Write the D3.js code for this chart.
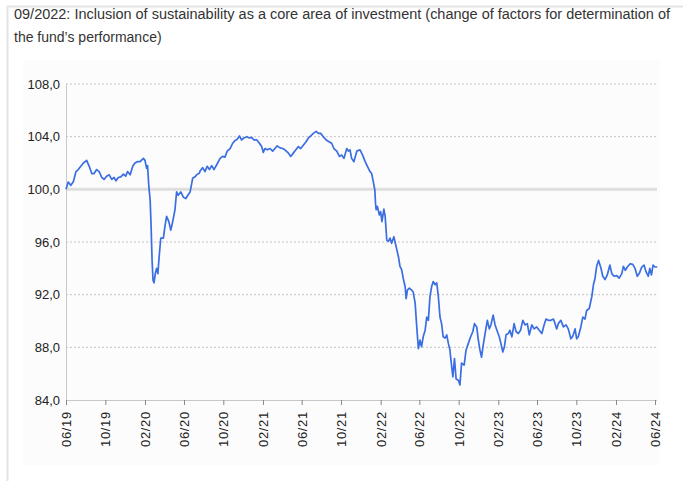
<!DOCTYPE html>
<html>
<head>
<meta charset="utf-8">
<script src="https://cdn.jsdelivr.net/npm/d3@7"></script>
<style>
  html, body { margin: 0; padding: 0; background: #fff; }
  svg { display: block; font-family: "Liberation Sans", Arial, Helvetica, sans-serif; }
</style>
</head>
<body>
<div class="visHolder"></div>
<script>
// Fund performance, indexed
const dates = [
  "2019-06-01","2019-06-08","2019-06-16","2019-06-24","2019-07-02","2019-07-09","2019-07-17","2019-07-25",
  "2019-08-04","2019-08-12","2019-08-20","2019-08-27","2019-09-04","2019-09-12","2019-09-20","2019-09-27",
  "2019-10-05","2019-10-13","2019-10-21","2019-10-28","2019-11-03","2019-11-10","2019-11-18","2019-11-26",
  "2019-12-03","2019-12-09","2019-12-17","2019-12-25","2020-01-01","2020-01-08","2020-01-17","2020-01-27",
  "2020-02-01","2020-02-06","2020-02-09","2020-02-13","2020-02-17","2020-02-20","2020-02-23","2020-02-26",
  "2020-02-29","2020-03-04","2020-03-08","2020-03-12","2020-03-16","2020-03-21","2020-03-29","2020-04-03",
  "2020-04-08","2020-04-15","2020-04-21","2020-04-27","2020-05-04","2020-05-09","2020-05-14","2020-05-22",
  "2020-05-30","2020-06-07","2020-06-13","2020-06-20","2020-06-28","2020-07-05","2020-07-12","2020-07-18",
  "2020-07-21","2020-07-29","2020-08-05","2020-08-12","2020-08-19","2020-08-26","2020-09-02","2020-09-10",
  "2020-09-21","2020-09-29","2020-10-06","2020-10-13","2020-10-22","2020-10-30","2020-11-06","2020-11-13",
  "2020-11-20","2020-11-27","2020-12-04","2020-12-13","2020-12-21","2020-12-28","2021-01-04","2021-01-13",
  "2021-01-21","2021-01-28","2021-02-02","2021-02-07","2021-02-14","2021-02-23","2021-03-03","2021-03-10",
  "2021-03-17","2021-03-26","2021-04-03","2021-04-10","2021-04-21","2021-04-28","2021-05-06","2021-05-14",
  "2021-05-22","2021-05-29","2021-06-06","2021-06-14","2021-06-22","2021-06-29","2021-07-07","2021-07-16",
  "2021-07-23","2021-07-30","2021-08-07","2021-08-16","2021-08-26","2021-09-02","2021-09-09","2021-09-18",
  "2021-09-26","2021-10-03","2021-10-10","2021-10-19","2021-10-24","2021-10-29","2021-11-03","2021-11-10",
  "2021-11-19","2021-11-29","2021-12-07","2021-12-15","2021-12-22","2021-12-30","2022-01-04","2022-01-09",
  "2022-01-14","2022-01-16","2022-01-18","2022-01-22","2022-01-28","2022-02-01","2022-02-05","2022-02-11",
  "2022-02-15","2022-02-20","2022-02-25","2022-03-02","2022-03-07","2022-03-14","2022-03-21","2022-03-28",
  "2022-04-02","2022-04-07","2022-04-12","2022-04-18","2022-04-21","2022-04-25","2022-05-01","2022-05-08",
  "2022-05-13","2022-05-19","2022-05-24","2022-05-29","2022-06-03","2022-06-08","2022-06-13","2022-06-19",
  "2022-06-24","2022-06-29","2022-07-04","2022-07-09","2022-07-14","2022-07-20","2022-07-25","2022-07-30",
  "2022-08-04","2022-08-09","2022-08-14","2022-08-20","2022-08-25","2022-08-30","2022-09-04","2022-09-06",
  "2022-09-13","2022-09-18","2022-09-23","2022-09-30","2022-10-05","2022-10-10","2022-10-18","2022-10-24",
  "2022-10-31","2022-11-07","2022-11-14","2022-11-19","2022-11-26","2022-12-01","2022-12-06","2022-12-11",
  "2022-12-16","2022-12-22","2022-12-29","2023-01-04","2023-01-09","2023-01-16","2023-01-22","2023-01-29",
  "2023-02-04","2023-02-09","2023-02-15","2023-02-20","2023-02-25","2023-03-04","2023-03-09","2023-03-15",
  "2023-03-22","2023-03-28","2023-04-04","2023-04-11","2023-04-18","2023-04-25","2023-05-02","2023-05-08",
  "2023-05-16","2023-05-23","2023-05-31","2023-06-08","2023-06-16","2023-06-23","2023-06-29","2023-07-06",
  "2023-07-14","2023-07-22","2023-07-27","2023-08-01","2023-08-06","2023-08-14","2023-08-22","2023-08-30",
  "2023-09-06","2023-09-14","2023-09-20","2023-09-27","2023-10-02","2023-10-07","2023-10-15","2023-10-21",
  "2023-10-28","2023-11-02","2023-11-10","2023-11-18","2023-11-23","2023-11-28","2023-12-03","2023-12-09",
  "2023-12-16","2023-12-22","2023-12-29","2024-01-05","2024-01-13","2024-01-19","2024-01-26","2024-02-03",
  "2024-02-11","2024-02-19","2024-02-24","2024-03-01","2024-03-07","2024-03-16","2024-03-24","2024-03-31",
  "2024-04-07","2024-04-13","2024-04-21","2024-04-28","2024-05-04","2024-05-11","2024-05-16","2024-05-21",
  "2024-05-26","2024-06-01","2024-06-08"
];
const values = [
  100.0,100.55,100.3,100.6,101.35,101.5,101.75,102.0,
  102.2,101.75,101.2,101.2,101.5,101.35,100.9,100.75,
  101.0,101.1,100.75,100.9,100.65,100.9,100.95,101.15,
  101.0,101.35,101.1,101.75,102.0,102.1,102.1,102.35,
  102.2,101.6,101.8,100.2,99.2,97.2,94.6,93.1,
  92.9,93.6,94.0,93.6,94.9,96.3,96.3,97.2,
  97.95,97.55,96.9,97.55,98.45,99.8,99.55,99.8,
  99.4,99.3,99.55,99.8,100.85,100.95,101.15,101.2,
  101.4,101.65,101.35,101.75,101.5,101.8,101.5,101.85,
  102.35,102.5,102.45,102.9,103.1,103.5,103.7,103.8,
  104.05,103.75,103.9,104.0,103.9,103.95,103.75,103.75,
  103.5,103.25,102.8,103.1,103.0,103.1,102.9,103.1,
  103.3,103.15,103.1,103.0,102.75,102.5,102.75,103.0,
  103.25,103.1,103.35,103.6,103.9,104.05,104.25,104.4,
  104.25,104.25,104.0,103.75,103.6,103.5,103.1,102.9,
  102.5,102.6,102.35,103.1,102.9,103.0,102.35,102.1,
  102.9,103.0,102.6,102.1,101.75,101.35,101.2,100.6,
  99.95,98.95,98.45,98.7,98.05,98.3,97.55,98.5,
  97.95,96.15,96.05,96.3,95.9,96.4,95.65,94.9,
  94.15,93.9,93.25,92.6,91.7,92.35,92.5,92.35,
  92.2,91.35,89.55,87.9,88.55,88.05,88.8,89.3,
  90.3,90.05,91.85,92.6,93.0,92.75,92.9,91.85,
  90.3,89.8,88.8,88.7,88.95,88.3,87.8,87.25,
  85.75,87.15,85.6,85.5,85.15,86.8,86.65,87.8,
  88.3,88.8,89.2,89.8,89.55,88.55,87.8,87.25,
  88.15,89.05,90.05,89.4,89.7,90.45,89.7,89.2,
  88.8,88.3,87.65,88.05,88.95,89.05,89.3,88.8,
  89.8,89.2,89.05,89.3,90.05,89.7,89.8,88.95,
  89.7,89.4,89.55,89.3,89.05,89.7,90.15,90.05,
  90.05,90.15,89.8,89.4,89.8,90.05,89.55,89.7,
  89.4,88.65,88.85,89.4,88.65,88.8,89.55,90.3,
  90.15,90.8,90.95,91.85,92.75,93.25,94.15,94.6,
  94.05,93.4,93.15,93.5,94.25,93.6,93.4,93.45,
  93.25,93.6,94.15,93.85,94.1,94.35,94.3,94.0,
  93.4,93.6,94.1,94.25,93.75,93.4,94.0,93.5,
  94.25,94.1,94.1
];
const yTicks = [84, 88, 92, 96, 100, 104, 108];
const xTickDates = ["2019-06-01","2019-10-01","2020-02-01","2020-06-01","2020-10-01","2021-02-01",
  "2021-06-01","2021-10-01","2022-02-01","2022-06-01","2022-10-01","2023-02-01","2023-06-01",
  "2023-10-01","2024-02-01","2024-06-01"];
const titleLines = [
  "09/2022: Inclusion of sustainability as a core area of investment (change of factors for determination of",
  "the fund\u2019s performance)"
];

const W = 683, H = 481;
const margin = {top: 84, right: 26, bottom: 81, left: 66};
const innerW = 655 - margin.left;
const innerH = H - margin.top - margin.bottom;

const parseDate = d3.timeParse("%Y-%m-%d");
const fmtTick = d3.timeFormat("%m/%y");
const fmtVal = v => d3.format(".1f")(v).replace(".", ",");

const data = dates.map((d, i) => ({date: parseDate(d), value: values[i]}));

const x = d3.scaleTime()
    .domain([parseDate("2019-06-01"), parseDate("2024-06-01")])
    .range([0, innerW]);
const y = d3.scaleLinear().domain([84, 108]).range([innerH, 0]);

const svg = d3.select(".visHolder").append("svg")
    .attr("width", W)
    .attr("height", H);

// faint chart panel
svg.append("rect")
    .attr("x", 23).attr("y", 60)
    .attr("width", 637).attr("height", 405)
    .attr("fill", "#fcfcfc");

// light frame on top and left
svg.append("line").attr("x1", 7).attr("x2", W).attr("y1", 6.5).attr("y2", 6.5)
    .attr("stroke", "#e4e4e4").attr("stroke-width", 2);
svg.append("line").attr("x1", 7.5).attr("x2", 7.5).attr("y1", 6).attr("y2", H)
    .attr("stroke", "#e4e4e4").attr("stroke-width", 2);

// title
svg.append("g").selectAll("text")
    .data(titleLines)
    .enter().append("text")
    .attr("x", 14)
    .attr("y", (d, i) => 19 + i * 23)
    .attr("fill", "#333")
    .style("font-size", "14px")
    .attr("textLength", (d, i) => i === 0 ? 656 : null)
    .attr("lengthAdjust", "spacingAndGlyphs")
    .text(d => d);

const g = svg.append("g")
    .attr("transform", "translate(" + margin.left + "," + margin.top + ")");

// gridlines
g.append("g").selectAll("line")
    .data(yTicks.filter(t => t !== 84))
    .enter().append("line")
    .attr("x1", 0).attr("x2", innerW + 2)
    .attr("y1", d => y(d)).attr("y2", d => y(d))
    .attr("stroke", d => d === 100 ? "#dedede" : "#c4c4c4")
    .attr("stroke-width", d => d === 100 ? 3 : 1)
    .attr("stroke-dasharray", d => d === 100 ? null : "2,2");

// Y axis
const yAxis = d3.axisLeft(y).tickValues(yTicks).tickFormat(fmtVal).tickSize(0).tickPadding(6);
const yg = g.append("g").call(yAxis);
yg.select(".domain").attr("stroke", "#c8c8c8");
yg.selectAll("text").attr("fill", "#222").style("font-size", "13px").style("font-family", "inherit");

// X axis
const xAxis = d3.axisBottom(x)
    .tickValues(xTickDates.map(parseDate))
    .tickFormat(fmtTick)
    .tickSizeInner(5).tickSizeOuter(0);
const xg = g.append("g").attr("transform", "translate(0," + innerH + ")").call(xAxis);
xg.select(".domain").attr("stroke", "#c8c8c8").attr("d", "M0,0.5H" + (innerW + 2));
xg.selectAll(".tick line").attr("stroke", "#888");
xg.selectAll("text")
    .attr("fill", "#222")
    .style("font-size", "13px")
    .style("font-family", "inherit")
    .style("letter-spacing", "0.7px")
    .attr("text-anchor", "end")
    .attr("transform", "rotate(-90)")
    .attr("x", -11)
    .attr("y", 0)
    .attr("dy", "0.35em");

// line
const line = d3.line()
    .x(d => x(d.date))
    .y(d => y(d.value));
g.append("path")
    .datum(data)
    .attr("fill", "none")
    .attr("stroke", "#3a6ee2")
    .attr("stroke-width", 1.7)
    .attr("stroke-linejoin", "round")
    .attr("d", line);
</script>
</body>
</html>
